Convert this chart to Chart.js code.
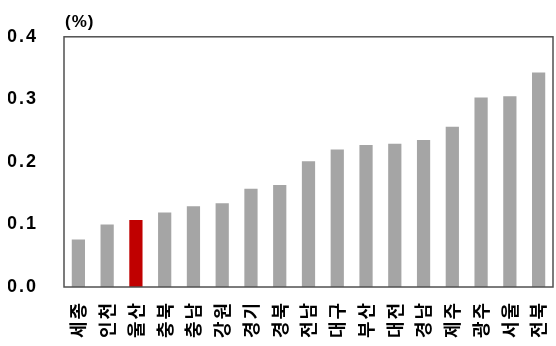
<!DOCTYPE html>
<html>
<head>
<meta charset="utf-8">
<script src="https://cdn.jsdelivr.net/npm/chart.js@4"></script>
<style>
  html, body { margin: 0; padding: 0; background: #fff; }
  #wrap { width: 556px; height: 346px; }
</style>
</head>
<body>
<div id="wrap"><canvas id="chart"></canvas></div>
<script>
const regions = ["세종", "인천", "울산", "충북", "충남", "강원", "경기", "경북", "전남",
  "대구", "부산", "대전", "경남", "제주", "광주", "서울", "전북"];
const rates = [0.076, 0.100, 0.107, 0.119, 0.129, 0.134, 0.157, 0.163, 0.201,
  0.220, 0.227, 0.229, 0.235, 0.256, 0.303, 0.305, 0.343];
const highlight = "울산";
const yTicks = [0.0, 0.1, 0.2, 0.3, 0.4];

const FONT = "'Noto Sans CJK KR', 'Liberation Sans', sans-serif";

// letter spacing for the region names only (x axis draws before the bars,
// the y axis is on a higher layer so it draws after the reset)
const spacingPlugin = {
  id: "spacing",
  beforeDraw(chart) { chart.ctx.letterSpacing = "2px"; },
  beforeDatasetsDraw(chart) { chart.ctx.letterSpacing = "0px"; }
};

// frame around the plot plus the unit label above the axis
const framePlugin = {
  id: "frame",
  afterDraw(chart) {
    const a = chart.chartArea;
    const ctx = chart.ctx;
    ctx.save();
    ctx.strokeStyle = "#505050";
    ctx.lineWidth = 1.5;
    ctx.strokeRect(a.left, a.top, a.right - a.left, a.bottom - a.top);
    ctx.fillStyle = "#000";
    ctx.letterSpacing = "1px";
    ctx.font = "bold 17px 'Liberation Sans', sans-serif";
    ctx.textBaseline = "alphabetic";
    ctx.fillText("(%)", a.left + 1, a.top - 10);
    ctx.restore();
  }
};

new Chart(document.getElementById("chart"), {
  type: "bar",
  data: {
    labels: regions,
    datasets: [{
      data: rates,
      backgroundColor: regions.map((r) => r == highlight ? "#C00000" : "#A5A5A5"),
      borderWidth: 0,
      barPercentage: 0.46,
      categoryPercentage: 1.0,
    }]
  },
  options: {
    responsive: true,
    maintainAspectRatio: false,
    animation: false,
    layout: { padding: { top: 33, right: 3, bottom: 0, left: 8 } },
    plugins: { legend: { display: false }, tooltip: { enabled: false } },
    scales: {
      x: {
        grid: { display: false, drawTicks: false },
        border: { display: false },
        afterFit(axis) {
          axis.height = 59;
          axis.paddingLeft = 0;
          axis.paddingRight = 0;
        },
        ticks: {
          color: "#000",
          font: { family: FONT, size: 18, weight: "bold" },
          minRotation: 90,
          maxRotation: 90,
          autoSkip: false,
          padding: 14,
        },
      },
      y: {
        min: 0,
        max: 0.4,
        z: 1,
        grid: { display: false, drawTicks: false },
        border: { display: false },
        afterBuildTicks(axis) {
          axis.ticks = yTicks.map((v) => ({ value: v }));
        },
        afterFit(axis) {
          axis.width = 56;
        },
        ticks: {
          color: "#000",
          font: { family: "'Liberation Sans', sans-serif", size: 18, weight: "bold" },
          padding: 26,
          callback: (v) => v.toFixed(1),
        },
      }
    }
  },
  plugins: [spacingPlugin, framePlugin]
});
</script>
</body>
</html>
